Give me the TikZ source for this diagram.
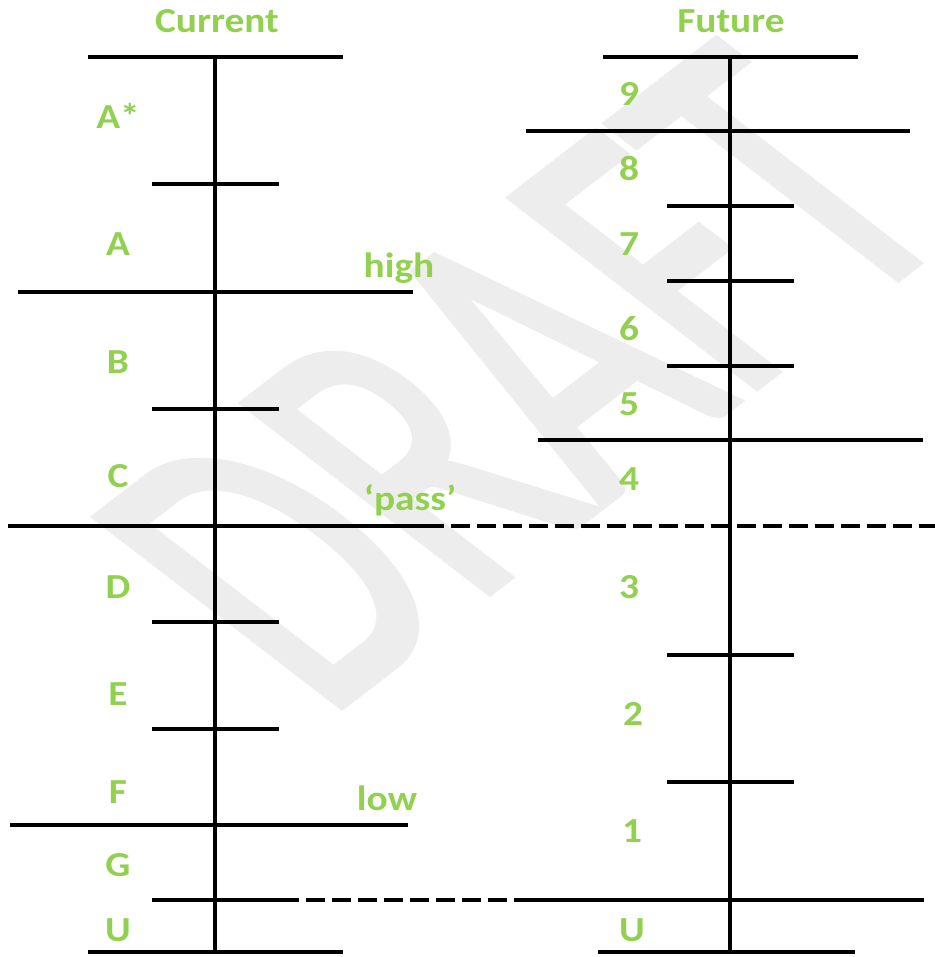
\documentclass[tikz,border=0pt]{standalone}
\usepackage{fontspec}
\setmainfont{Carlito}[FakeStretch=1.12]
\newfontfamily\draftfont{Carlito}[FakeBold=1.8]
\usepackage{tikz}
\definecolor{gradegreen}{RGB}{146,208,80}
\colorlet{draftgray}{gray!14}
\tikzset{
  grade/.style={gradegreen,font=\fontsize{20}{24}\selectfont\bfseries,anchor=base},
  bar/.style={line width=0.08cm},
  dashbar/.style={line width=0.08cm,dash pattern=on 0.38cm off 0.14cm}
}

\begin{document}
\begin{tikzpicture}[x=0.02cm,y=-0.02cm]
\useasboundingbox (0,0) rectangle (935,957);
% watermark, stretched like the original
\begin{scope}[xscale=1.3]
  \node[draftgray,rotate=45,yscale=1.6,transform shape,font=\draftfont\fontsize{148}{148}\selectfont] (draft) at (402,378) {DRAFT};
\end{scope}
% headings
\node[grade] (current) at (217,32) {Current};
\node[grade] (future) at (731,32) {Future};
% current scale
\draw[bar] (215,57) -- (215,952);
\foreach \y/\xa/\xb in {57/88/343,184/152/279,292/18/413,409/152/279,526/8/425,622/152/279,729/152/279,825/10/408,900/152/280,952/88/343}
  \draw[bar] (\xa,\y) -- (\xb,\y);
\foreach \y/\t in {128/A*,255/A,373/B,487/C,598/D,705/E,803/F,876/G,941/U}
  \node[grade] at (118,\y) {\t};
% future scale
\draw[bar] (730,57) -- (730,952);
\foreach \y/\xa/\xb in {57/603/858,131/526/910,206/667/794,281/667/794,366/667/794,440/538/923,655/667/794,782/667/794,900/527/924,952/598/855}
  \draw[bar] (\xa,\y) -- (\xb,\y);
\foreach \y/\x/\t in {105/629/9,180/629/8,255/629/7,340/629/6,415/629/5,490/629/4,598/629/3,725/633/2,842/632/1,941/632/U}
  \node[grade] at (\x,\y) {\t};
% links between the scales
\draw[dashbar] (425,526) -- (935,526);
\draw[dashbar] (280,900) -- (527,900);
\node[grade] (high) at (399,277) {high};
\node[grade] (pass) at (410,510) {`pass'};
\node[grade] (low) at (387,810) {low};
\end{tikzpicture}
\end{document}
